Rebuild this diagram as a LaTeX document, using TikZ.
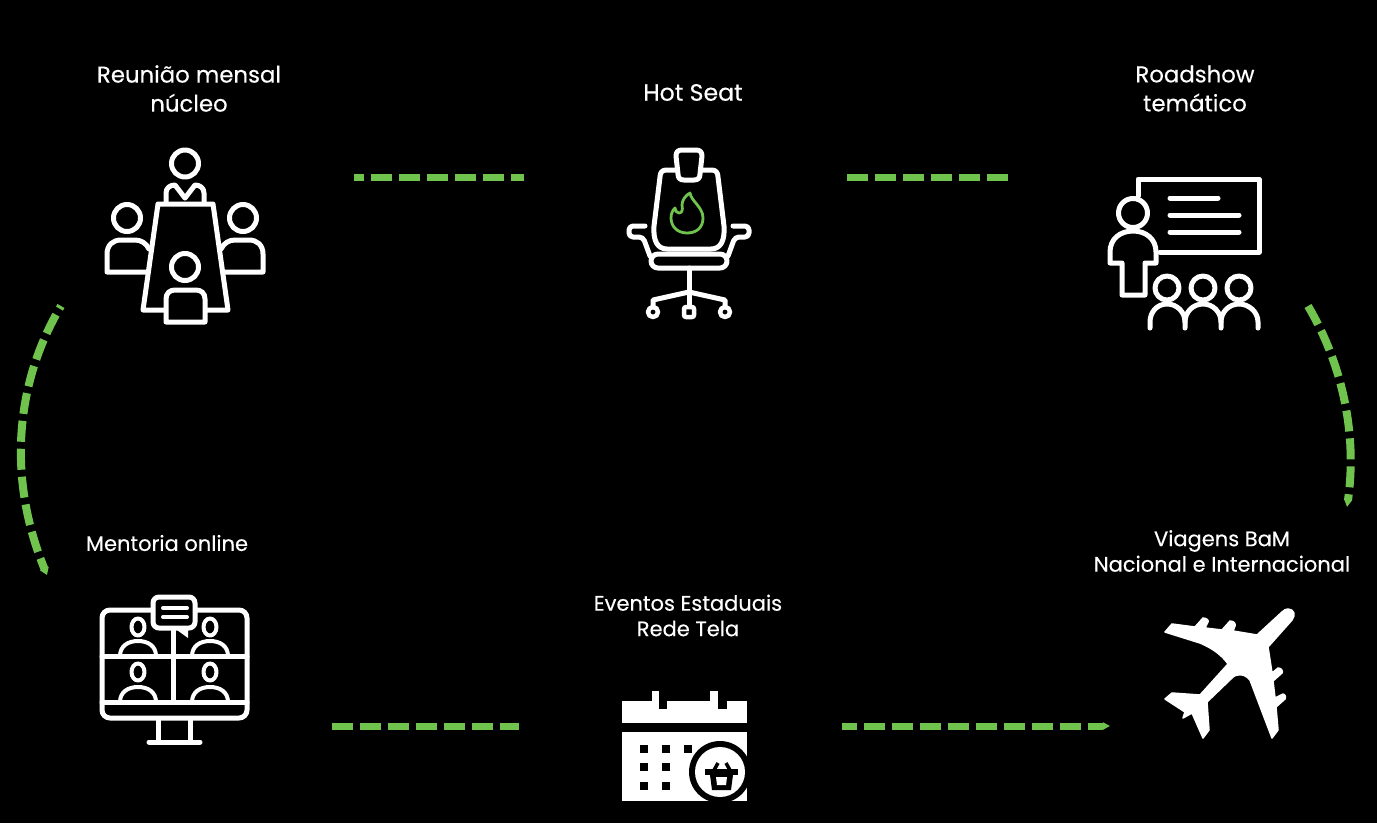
\documentclass[tikz,border=0pt]{standalone}
\usepackage{fontspec}
\setmainfont[FakeBold=0.25]{Poppins}
\usepackage{xcolor}
\usetikzlibrary{arrows.meta}
\definecolor{linkgreen}{RGB}{112,196,78}
\tikzstyle{trail}=[linkgreen,line width=7pt,dash pattern=on 21pt off 7pt,>/.tip={Triangle[length=7pt,width=9pt]}]
\tikzstyle{taper}=[>/.tip={Triangle[length=7pt,width=7pt]}]
\tikzstyle{curved}=[line width=8pt]
\tikzstyle{label}=[white,align=center,inner sep=0pt,font=\fontsize{22.8pt}{29pt}\selectfont]
\tikzstyle{tight}=[white,align=center,inner sep=0pt,font=\fontsize{21pt}{25.5pt}\selectfont]
\tikzstyle{icon}=[white,line width=5pt,line join=round,line cap=round]
\tikzstyle{stub}=[black,fill=black]
\begin{document}
\begin{tikzpicture}[x=1pt,y=-1pt]
	\fill[black] (0,0) rectangle (1377,823);
	\useasboundingbox (0,0) rectangle (1377,823);
	\node[label] (reuniao)  at (189,88.5) {Reunião mensal\\núcleo};
	\node[label,font=\fontsize{23.6pt}{29pt}\selectfont] (hotseat)  at (693,92.5) {Hot Seat};
	\node[label] (roadshow) at (1195,88.5) {Roadshow\\temático};
	\node[tight] (mentoria) at (167,543)  {Mentoria online};
	\node[tight] (eventos)  at (688,615.5) {Eventos Estaduais\\Rede Tela};
	\node[tight] (viagens)  at (1222,551) {Viagens BaM\\Nacional e Internacional};
	% connector ends
	\coordinate (a1) at (354,177);
	\coordinate (a2) at (524,177);
	\coordinate (b1) at (847,177);
	\coordinate (b2) at (1008,177);
	\coordinate (c1) at (1308,306);
	\coordinate (c2) at (1347,507);
	\coordinate (d1) at (842,726);
	\coordinate (d2) at (1110,726);
	\coordinate (e1) at (332,726);
	\coordinate (e2) at (519,726);
	\coordinate (f1) at (61,306);
	\coordinate (f2) at (47,575);
	\draw[trail,dash phase=11pt] (a1) -- (a2);
	\draw[trail] (b1) -- (b2);
	\draw[trail,curved,taper,->] (c1) .. controls (1340,360) and (1358,430) .. (c2);
	\draw[trail,taper,dash phase=6pt,->] (d1) -- (d2);
	\draw[trail] (e1) -- (e2);
	\draw[trail,curved,dash phase=18pt,->] (f1) .. controls (14,385) and (8,480) .. (f2);
	% meeting table
	\draw[icon] (185,163.5) circle[radius=13.5];
	\draw[icon] (166,203) -- (166,193) .. controls (166,188) and (170,185) .. (175,185) -- (185,198) -- (195,185) .. controls (200,185) and (204,188) .. (204,193) -- (204,203);
	\draw[icon] (127,218) circle[radius=13.5];
	\draw[icon] (243,218) circle[radius=13.5];
	\draw[icon] (146,272) -- (107,272) -- (107,254) .. controls (107,245) and (113,240) .. (121,240) -- (135,240) .. controls (141,240) and (146,243) .. (149,249);
	\draw[icon] (224,272) -- (263,272) -- (263,254) .. controls (263,245) and (257,240) .. (249,240) -- (235,240) .. controls (229,240) and (224,243) .. (221,249);
	\draw[icon] (158,204) -- (213,204) -- (228,310) -- (143,310) -- cycle;
	\draw[icon,fill=black] (185,267) circle[radius=13.5];
	\draw[icon,fill=black] (166,322) -- (166,299) .. controls (166,293) and (170,290) .. (175,290) -- (196,290) .. controls (201,290) and (205,293) .. (205,299) -- (205,322) -- cycle;
	% chair
	\draw[icon] (676,170) -- (666,170) .. controls (662,170) and (660,173) .. (660,177) -- (654,226) .. controls (653,240) and (657,249) .. (667,249) -- (711,249) .. controls (721,249) and (725,240) .. (724,226) -- (718,177) .. controls (718,173) and (716,170) .. (712,170) -- (702,170);
	\draw[icon,fill=black] (682,150) -- (696,150) .. controls (700,150) and (702,152) .. (702,156) -- (700,174) .. controls (700,178) and (698,180) .. (694,180) -- (684,180) .. controls (680,180) and (678,178) .. (678,174) -- (676,156) .. controls (676,152) and (678,150) .. (682,150) -- cycle;
	\draw[icon,rounded corners=7pt,fill=black] (651,254) rectangle (727,268);
	\draw[icon,rounded corners=4pt] (645,226) -- (629,226) -- (629,237) -- (643,237) -- (650,256);
	\draw[icon,rounded corners=4pt] (733,226) -- (749,226) -- (749,237) -- (735,237) -- (728,256);
	\draw[icon] (689,268) -- (689,306);
	\draw[icon] (653,306) -- (653,300) -- (689,292) -- (725,300) -- (725,306);
	\draw[icon,line width=4.5pt] (653,312) circle[radius=5];
	\draw[icon,line width=4.5pt,rounded corners=2pt] (684,307) rectangle (694,317);
	\draw[icon,line width=4.5pt] (725,312) circle[radius=5];
	\draw[linkgreen,line width=2.8pt,line join=round] (690,193) .. controls (691,201) and (703,207) .. (703,218) .. controls (703,228) and (696,233) .. (687,233) .. controls (677,233) and (671,226) .. (671,218) .. controls (671,213) and (673,210) .. (675,208) .. controls (675,211) and (677,213) .. (679,213) .. controls (682,213) and (683,210) .. (682,205) .. controls (682,200) and (686,195) .. (690,193) -- cycle;
	% presenter
	\draw[icon] (1138,196) -- (1138,179) -- (1259,179) -- (1259,252) -- (1160,252);
	\draw[icon] (1170,198) -- (1218,198);
	\draw[icon] (1170,215) -- (1239,215);
	\draw[icon] (1170,232) -- (1239,232);
	\draw[icon] (1133,213) circle[radius=14.5];
	\draw[icon] (1122,263) -- (1110,263) -- (1110,252) .. controls (1110,239) and (1120,231) .. (1133,231) .. controls (1146,231) and (1156,239) .. (1156,252) -- (1156,263) -- (1145,263) -- (1145,295) -- (1122,295) -- cycle;
	\foreach \xh in {1167,1203,1239} {
		\draw[icon] (\xh,288) circle[radius=12];
	}
	\draw[icon] (1150,328) -- (1150,322) .. controls (1150,312) and (1157,304) .. (1167,304) .. controls (1177,304) and (1185,312) .. (1185,322) -- (1185,328);
	\draw[icon] (1185,322) .. controls (1185,312) and (1193,304) .. (1203,304) .. controls (1213,304) and (1221,312) .. (1221,322) -- (1221,328);
	\draw[icon] (1221,322) .. controls (1221,312) and (1229,304) .. (1239,304) .. controls (1249,304) and (1258,312) .. (1258,322) -- (1258,328);
	% monitor
	\draw[icon,rounded corners=8pt] (102,610) rectangle (247,718);
	\draw[icon] (102,656) -- (247,656);
	\draw[icon] (102,702) -- (247,702);
	\draw[icon] (173,610) -- (173,702);
	\foreach \xh in {138,210} {
		\foreach \yh/\ys in {627/656,672/702} {
			\draw[icon,line width=4pt] (\xh,\yh) ellipse[x radius=6.5,y radius=8.5];
			\draw[icon,line width=4pt] (\xh-18,\ys) .. controls (\xh-18,\ys-10) and (\xh-10,\ys-15) .. (\xh,\ys-15) .. controls (\xh+10,\ys-15) and (\xh+18,\ys-10) .. (\xh+18,\ys);
		}
	}
	\draw[icon,rounded corners=6pt,fill=black] (153,597) rectangle (195,628);
	\fill[white] (177,630) -- (188,638) -- (188,630) -- cycle;
	\draw[icon,line width=4pt] (163,608) -- (187,608);
	\draw[icon,line width=4pt] (163,617) -- (187,617);
	\draw[icon] (158,720) -- (158,742);
	\draw[icon] (190,720) -- (190,742);
	\draw[icon] (149,742) -- (200,742);
	% calendar
	\fill[white] (622,701) rectangle (747,723);
	\fill[white] (652,691) rectangle (659,701);
	\fill[white] (710,691) rectangle (718,701);
	\fill[stub] (659,701) rectangle (667,709);
	\fill[stub] (718,701) rectangle (727,709);
	\fill[white] (622,732) rectangle (747,801);
	\foreach \xs in {640,662} {
		\foreach \ys in {745,763,782} {
			\fill[stub] (\xs,\ys) rectangle (\xs+8,\ys+8);
		}
	}
	\fill[stub] (684,745) rectangle (692,753);
	\fill[stub] (720,772) circle[radius=31];
	\fill[white] (720,772) circle[radius=25];
	\draw[black,line width=3.5pt] (718,763) -- (713,772);
	\draw[black,line width=3.5pt] (726,763) -- (731,772);
	\fill[stub] (705,769) rectangle (738,775);
	\fill[stub] (710,775) -- (733,775) -- (731,790) -- (712,790) -- cycle;
	\fill[white] (716,777) -- (727,777) -- (726,785) -- (717,785) -- cycle;
	% plane
	\filldraw[white,line width=1.5pt,line join=round] (1288,609) .. controls (1294,609) and (1296,615) .. (1292,620) -- (1268,647) -- (1272,673) -- (1278,668) .. controls (1282,668) and (1283,672) .. (1282,673) -- (1273,681) -- (1275,698) -- (1283,694) .. controls (1286,695) and (1286,698) .. (1285,699) -- (1276,707) -- (1278,730) -- (1272,738) -- (1250,680) .. controls (1247,676) and (1242,674) .. (1238,675) .. controls (1236,675) and (1234,676) .. (1233,677) -- (1207,702) -- (1209,730) -- (1203,738) -- (1192,713) -- (1183,718) -- (1185,712) -- (1165,699) -- (1172,693) -- (1200,695) -- (1228,664) .. controls (1222,655) and (1212,648) .. (1200,643) -- (1165,632) -- (1172,624) -- (1195,627) -- (1203,618) .. controls (1207,618) and (1209,621) .. (1208,622) -- (1205,628) -- (1222,630) -- (1230,621) .. controls (1234,621) and (1236,624) .. (1235,626) -- (1233,631) -- (1257,635) -- (1282,612) .. controls (1284,610) and (1286,609) .. (1288,609) -- cycle;
\end{tikzpicture}
\end{document}
